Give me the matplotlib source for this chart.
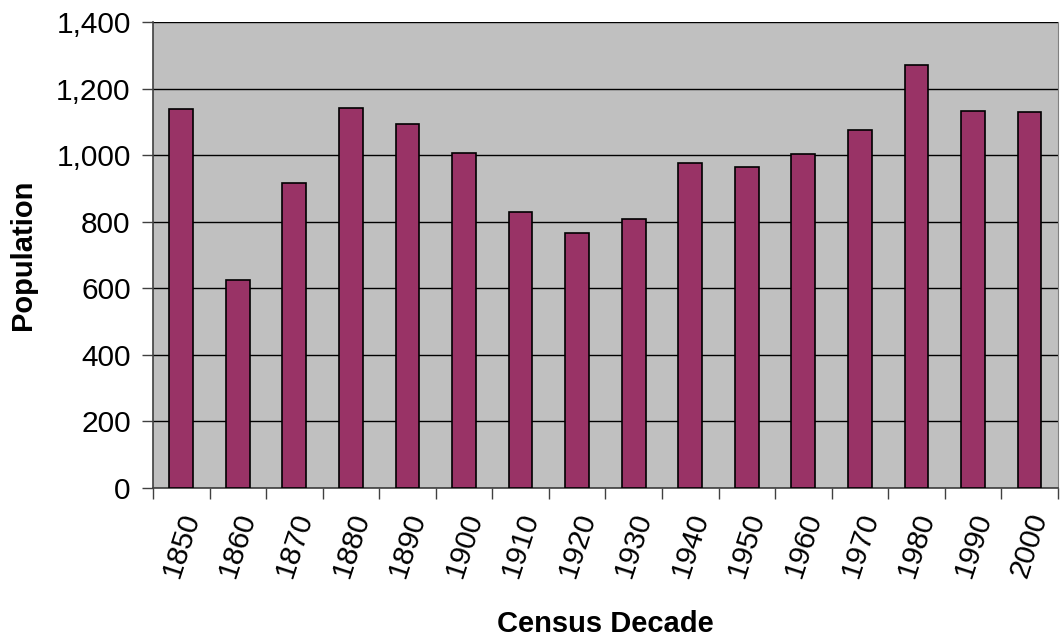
import matplotlib.pyplot as plt
from matplotlib.ticker import FuncFormatter
import numpy as np

# Data
decades = ["1850", "1860", "1870", "1880", "1890", "1900", "1910", "1920",
           "1930", "1940", "1950", "1960", "1970", "1980", "1990", "2000"]
population = [1138, 625, 917, 1142, 1093, 1005, 830, 767,
              809, 975, 963, 1004, 1075, 1272, 1134, 1130]
y_ticks = [0, 200, 400, 600, 800, 1000, 1200, 1400]

plt.rcParams['font.family'] = ['Liberation Sans', 'DejaVu Sans']

fig = plt.figure(figsize=(10.6, 6.39), dpi=100)
ax = fig.add_axes([0.1443, 0.2363, 0.8537, 0.7293])
ax.set_facecolor('#C0C0C0')

x = np.arange(len(decades))
ax.bar(x, population, width=0.42, color='#993366', edgecolor='black',
       linewidth=1.2, zorder=3)

ax.set_xlim(-0.5, len(decades) - 0.5)
ax.set_ylim(0, 1400)
ax.set_yticks(y_ticks)
ax.yaxis.set_major_formatter(FuncFormatter(lambda v, p: f"{int(v):,}"))
ax.yaxis.grid(True, color='black', linewidth=1, zorder=1)

# labels at category centres, tick marks at category boundaries
ax.set_xticks(x)
ax.set_xticklabels(decades, rotation=72, ha='center', va='top')
ax.set_xticks(np.arange(len(decades) + 1) - 0.5, minor=True)
ax.tick_params(axis='x', which='major', length=0, pad=15, labelsize=21.5)
ax.tick_params(axis='x', which='minor', length=8, width=1, color='#404040')
ax.tick_params(axis='y', length=8, width=1, color='#404040', labelsize=21.5, pad=8)

for s in ['left', 'bottom']:
    ax.spines[s].set_color('#404040')
    ax.spines[s].set_linewidth(1.2)
ax.spines['right'].set_color('#808080')
ax.spines['top'].set_visible(False)

ax.set_ylabel('Population', fontsize=21, fontweight='bold')
ax.set_xlabel('Census Decade', fontsize=21, fontweight='bold')
ax.yaxis.set_label_coords(-0.128, 0.5)
ax.xaxis.set_label_coords(0.5, -0.262)

fig.savefig('out.png', dpi=100)
